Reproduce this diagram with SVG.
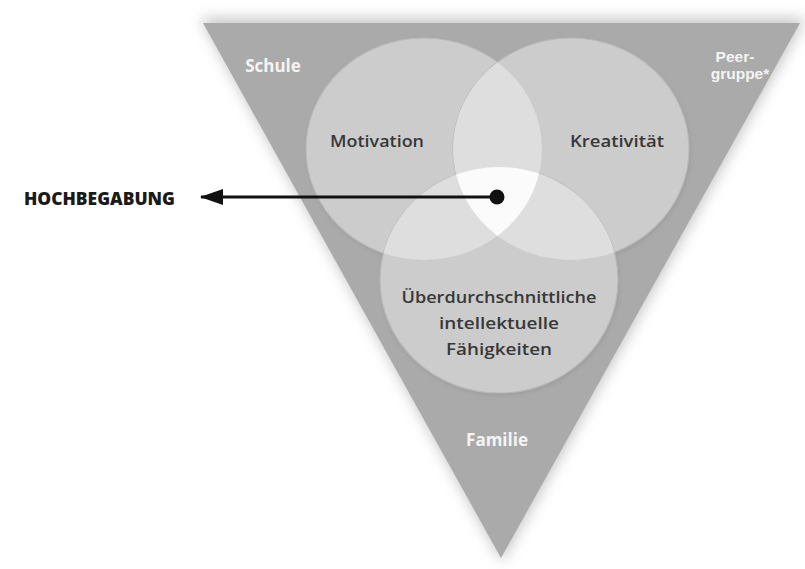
<svg xmlns="http://www.w3.org/2000/svg" width="805" height="569" viewBox="0 0 805 569">
<style>
.lbl{font-family:"Open Sans","Noto Sans","Liberation Sans",sans-serif;font-weight:600;font-size:17px;fill:#383838;text-anchor:middle}
.ctx{font-family:"Open Sans","Noto Sans","Liberation Sans",sans-serif;font-weight:700;font-size:17px;fill:#f4f4f4;text-anchor:middle}
.ctxs{font-family:"Liberation Sans","Open Sans",sans-serif;font-size:15.5px}
.main{font-family:"Open Sans","Noto Sans","Liberation Sans",sans-serif;font-weight:800;font-size:17px;fill:#1a1a1a}
.circ{fill:#cccccc;stroke:#bababa;stroke-width:1.2}
.two{fill:#dedede}
.three{fill:#fbfbfb}
</style>
<defs>
<filter id="sh" x="-20%" y="-20%" width="140%" height="140%"><feGaussianBlur stdDeviation="7"/></filter>
<filter id="csh" x="-20%" y="-20%" width="140%" height="140%"><feGaussianBlur stdDeviation="2"/></filter>
<ellipse id="eM" cx="424" cy="149" rx="118" ry="111"/>
<ellipse id="eK" cx="571" cy="149" rx="118" ry="111"/>
<ellipse id="eB" cx="499" cy="280" rx="119" ry="113"/>
<clipPath id="cM"><use href="#eM"/></clipPath>
<clipPath id="cK"><use href="#eK"/></clipPath>
<clipPath id="cB"><use href="#eB"/></clipPath>
<marker id="ah" viewBox="0 0 23 16" refX="22" refY="8" markerWidth="23" markerHeight="16" markerUnits="userSpaceOnUse" orient="auto">
<path d="M0,0 L23,8 L0,16 Z" fill="#111"/>
</marker>
</defs>
<rect width="805" height="569" fill="#ffffff"/>
<g id="kontext">
<polygon points="200,18 806,18 502,562" fill="#9a9a9a" opacity="0.55" filter="url(#sh)"/>
<polygon points="203,23 800,23 501,558" fill="#aaaaaa"/>
<text class="ctx" x="273" y="72">Schule</text>
<text class="ctx ctxs" x="735" y="62">Peer-</text>
<text class="ctx ctxs" x="740" y="79">gruppe*</text>
<text class="ctx" x="497" y="446">Familie</text>
</g>
<g id="kreise-schatten" opacity="0.5" filter="url(#csh)">
<use href="#eM" fill="#8c8c8c" transform="translate(1,2)"/>
<use href="#eK" fill="#8c8c8c" transform="translate(1,2)"/>
<use href="#eB" fill="#8c8c8c" transform="translate(1,2)"/>
</g>
<g id="motivation">
<use href="#eM" class="circ"/>
</g>
<g id="kreativitaet">
<use href="#eK" class="circ"/>
</g>
<g id="intellekt">
<use href="#eB" class="circ"/>
</g>
<g id="ueberschneidungen">
<g clip-path="url(#cM)"><use href="#eK" class="two"/></g>
<g clip-path="url(#cM)"><use href="#eB" class="two"/></g>
<g clip-path="url(#cK)"><use href="#eB" class="two"/></g>
<g clip-path="url(#cM)"><g clip-path="url(#cK)"><use href="#eB" class="three"/></g></g>
</g>
<g id="texte">
<text class="lbl" x="377" y="147" textLength="94" lengthAdjust="spacingAndGlyphs">Motivation</text>
<text class="lbl" x="617" y="147" textLength="94" lengthAdjust="spacingAndGlyphs">Kreativität</text>
<text class="lbl" x="499" y="303" textLength="195" lengthAdjust="spacingAndGlyphs">Überdurchschnittliche</text>
<text class="lbl" x="499" y="329" textLength="120" lengthAdjust="spacingAndGlyphs">intellektuelle</text>
<text class="lbl" x="499" y="355" textLength="106" lengthAdjust="spacingAndGlyphs">Fähigkeiten</text>
</g>
<g id="hochbegabung">
<text class="main" x="24" y="205" textLength="151" lengthAdjust="spacingAndGlyphs">HOCHBEGABUNG</text>
</g>
<g id="connectors">
<line x1="497" y1="197" x2="201" y2="197" stroke="#111" stroke-width="3" marker-end="url(#ah)"/>
<circle cx="497" cy="197" r="7.5" fill="#111"/>
</g>
</svg>
